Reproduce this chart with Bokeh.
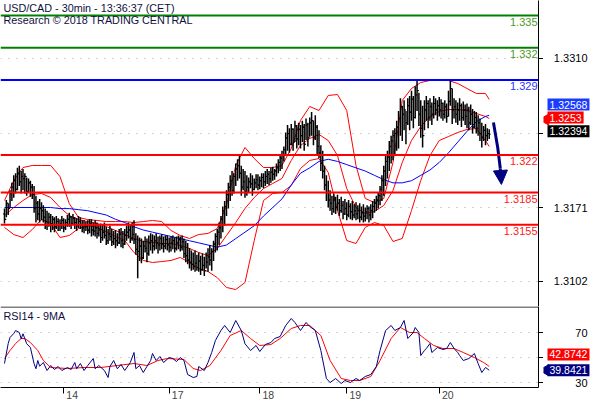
from math import pi
from bokeh.plotting import figure
from bokeh.layouts import column, row
from bokeh.models import (Span, Label, FixedTicker, Range1d, Arrow, NormalHead,
                          CustomJSTickFormatter)
from bokeh.embed import file_html
from bokeh.resources import INLINE

# ---------------- data (prices in pips above 1.3000) ----------------
BASE = 1.3
high_pips = [170,178,175,187,194,201,203,208,210,205,
             207,203,199,198,196,193,191,182,177,179,
             176,173,170,168,166,165,163,162,163,161,
             160,163,161,160,164,166,163,165,162,161,
             163,162,159,159,158,159,160,160,157,159,
             157,155,156,154,157,153,151,154,151,149,
             150,147,151,152,149,151,154,157,154,157,
             159,147,145,143,142,140,144,142,145,147,
             146,145,147,144,145,146,144,145,145,143,
             144,145,143,144,145,144,145,142,140,138,
             133,131,129,131,127,129,126,128,125,129,
             133,136,133,140,147,151,157,163,172,177,
             187,194,201,205,203,212,216,219,210,207,
             205,201,199,203,201,198,202,202,200,203,
             203,205,207,205,208,209,207,212,216,219,
             224,228,241,248,245,249,245,252,248,250,
             248,252,249,254,250,255,260,252,257,248,
             243,229,224,210,201,196,187,182,184,181,
             183,179,181,177,179,176,178,175,177,174,
             176,173,175,172,174,171,173,172,174,177,
             179,182,185,191,201,210,219,224,233,238,
             243,245,252,261,273,266,271,261,273,275,
             280,275,284,289,278,271,266,271,275,271,
             273,269,275,273,271,274,272,269,271,268,
             280,289,282,273,271,269,273,268,270,267,
             268,265,267,263,261,260,257,254,250,247,
             249,245,244]
low_pips = [156,162,164,171,177,180,184,187,191,184,
            187,184,182,185,181,179,166,157,159,157,
            159,157,151,150,153,148,150,148,151,149,
            149,151,148,150,153,153,151,155,151,149,
            152,151,148,147,149,146,147,144,145,144,
            142,144,138,140,142,136,137,140,135,136,
            133,135,137,134,133,136,140,142,138,140,
            137,127,105,121,119,123,129,120,126,131,
            128,131,132,128,131,132,129,132,131,129,
            130,132,129,131,132,130,131,124,120,118,
            114,112,113,111,112,111,108,112,107,114,
            111,117,112,121,129,131,136,142,148,154,
            163,170,177,182,184,191,196,198,182,187,
            180,182,185,189,182,187,189,187,188,190,
            189,191,193,192,194,196,197,200,203,205,
            207,214,221,224,222,229,224,232,226,229,
            226,232,224,234,228,237,238,229,234,220,
            217,205,198,187,177,171,168,164,166,165,
            168,163,166,160,164,159,162,160,159,161,
            159,160,157,159,157,158,160,157,159,161,
            166,168,170,173,177,182,191,198,205,212,
            215,219,224,226,238,233,243,230,248,243,
            252,245,254,261,247,236,227,243,252,245,
            252,248,254,257,252,256,254,252,254,250,
            256,266,249,254,250,248,252,246,252,248,
            245,243,248,240,245,240,238,233,227,233,
            229,233,235]
close_pips = [160,175,170,184,190,196,188,203,195,200,
              198,200,186,194,190,183,170,175,165,170,
              168,162,158,155,162,156,160,153,158,155,
              156,159,152,157,160,162,156,161,157,154,
              158,155,152,155,153,150,156,150,149,152,
              147,150,143,148,145,140,146,144,139,142,
              140,138,146,140,137,145,148,150,142,146,
              141,132,130,135,124,135,133,128,138,140,
              135,140,138,136,142,137,135,141,136,134,
              138,140,133,138,141,134,139,128,126,122,
              120,118,116,119,115,121,113,117,112,120,
              125,122,130,137,144,148,152,160,168,172,
              183,190,196,187,200,207,210,203,190,195,
              186,190,195,193,188,194,197,192,196,199,
              195,200,202,198,204,202,205,208,213,217,
              220,225,236,240,230,244,232,247,235,244,
              238,246,230,248,236,250,252,236,246,228,
              222,212,205,192,185,178,175,170,178,171,
              175,168,173,165,170,164,172,167,164,168,
              165,168,162,166,163,167,170,164,168,172,
              175,178,182,188,196,205,214,218,228,233,
              238,240,246,254,265,258,262,250,266,260,
              272,255,276,280,258,245,238,262,268,255,
              265,258,268,262,266,262,268,258,265,256,
              270,282,262,265,258,262,266,255,262,256,
              262,250,258,246,255,245,250,240,236,243,
              238,240,239.4]
first_open_pips = 165

# indicator curves sampled at bar indices
curve_idx = [0,5,10,15,20,25,30,35,40,45,50,55,60,65,70,75,80,85,90,95,100,105,110,115,120,125,
             130,135,140,145,150,155,160,165,170,175,180,185,190,195,200,205,210,215,220,225,230,235,
             240,245,250,255,260,262]
ma_pips = [171,171,171,171,171,171,170,170,169,168,166,164,160,157,153,150,148,146,144,142,140,138,136,134,
           136,142,148,154,163,171,179,192,203,208,214,216,214,211,208,205,201,197,194,194,196,201,206,213,
           222,232,242,251,256,257]
bb_upper_pips = [177.5,196.2,208.3,210.2,210.2,210.2,199.9,174.7,161.7,159.8,158.9,157.9,157.9,157.9,157.0,157.9,
                 158.9,157.9,149.6,144.9,142.1,145.8,146.8,151.4,172.9,210.2,227.0,216.7,208.3,208.3,210.2,226.0,
                 252.2,265.2,261.5,275.5,276.4,261.5,210.2,179.4,175.7,179.4,213.0,270.8,282.0,287.6,289.5,289.5,
                 289.5,286.7,282.0,277.4,277.4,271.8]
bb_mid_pips = [163.5,171.0,177.5,183.1,184.1,180.3,171.0,163.5,159.8,157.9,156.1,153.3,149.6,145.8,142.1,139.3,
               138.4,137.4,137.4,135.6,132.8,129.0,126.2,132.8,144.9,157.0,170.1,180.3,188.7,193.4,198.1,214.9,
               228.8,235.4,239.1,233.5,219.5,188.7,171.0,165.4,167.3,172.9,186.9,213.0,233.5,246.6,255.9,260.6,
               262.4,262.4,261.5,258.7,255.9,254.0]
bb_lower_pips = [152.4,145.8,143.0,150.5,159.8,156.1,143.0,144.9,151.4,154.2,152.4,148.6,144.0,140.2,129.0,121.6,
                 119.7,120.6,121.6,124.4,119.7,114.1,111.3,105.6,96.4,94.5,101.0,140.2,177.5,184.1,185.0,191.5,
                 207.4,214.9,216.7,203.7,168.2,140.2,137.4,152.4,157.0,154.2,139.3,142.1,168.2,196.2,219.5,233.5,
                 237.2,241.0,243.8,244.7,233.5,227.9]

rsi_idx = [0,2,3,5,6,8,9,10,11,12,14,16,17,18,19,21,23,25,27,29,31,34,36,38,39,41,43,45,48,49,51,54,56,57,59,
           61,63,65,68,70,71,73,75,77,79,80,82,84,86,89,91,93,95,97,99,102,104,105,108,110,112,114,117,119,122,
           125,128,130,133,136,138,141,144,146,149,152,155,157,160,163,165,168,171,174,176,179,182,184,187,190,
           192,195,198,201,203,206,209,211,214,216,218,221,222,224,225,227,228,230,231,234,237,239,241,243,245,
           246,248,251,254,256,258,260,262]
rsi_val = [45.2,61.2,66,69.2,71.6,70,65,69,65,61,58,45,41,47.6,43,46,39.6,43.6,40.4,42.8,39.6,42,40.4,46,41,
           45.2,39.6,43.6,49.2,41,43.6,39.6,34,42.8,47.6,41,44.4,39.6,46,54,41,43.6,38,42.8,47.6,53.2,47.6,50.8,
           46,50,49.2,46.8,50,47.6,36.4,34,34.8,42.8,39.6,46,54,63.6,71.6,75.6,70,79.6,71.6,61,55.6,59.6,54.8,
           60.4,62,65.2,66.8,75.6,81.2,78,71.6,78,74.8,71.6,55.6,33.2,30,33.2,29.2,31.6,30,33.2,31.6,34.8,36.4,
           42.8,55.6,71.6,75.6,71.6,74,79.6,65.2,70,74,70,51.6,55.6,57.2,61.2,54,58,56.4,57.2,62,57.2,54,51.6,
           47.6,49.2,53.2,45.2,38,42,39.8421]
rsi_ma_idx = [0,3,6,9,11,14,18,21,25,34,43,52,61,70,77,83,88,97,102,106,111,117,122,128,133,138,144,149,155,
              160,165,171,176,182,187,192,198,203,209,214,219,223,227,232,237,243,248,254,259,262]
rsi_ma_val = [49.2,55.6,61.2,65.2,65.2,62,55.6,47.6,42,41.2,42,42,43.6,45.2,43.6,47.6,49.2,48.4,41.2,39.6,43.6,
              55.6,67.6,71.6,65.2,59.6,60.4,65.2,73.2,75.6,75.6,67.6,47.6,33.2,31.6,31.6,34.8,47.6,65.2,74,70,70,
              65.2,59.6,57.2,57.2,54,50,46,42.8742]

levels = [1.335, 1.332, 1.329, 1.322, 1.3185, 1.3155]
level_text = ["1.335", "1.332", "1.329", "1.322", "1.3185", "1.3155"]
level_colors = ["#008000", "#008000", "#0000ff", "#ff0000", "#ff0000", "#ff0000"]
level_text_colors = ["#4d9a2a", "#4d9a2a", "#3030ff", "#ff2020", "#ff2020", "#ff2020"]

forecast_idx = [264.3, 266.6, 268.0, 268.6]
forecast_pips = [250.3, 227.0, 207.4, 192.5]

price_ticks = [1.3102, 1.3171, 1.3240, 1.3310]
price_tick_labels = ["1.3102", "1.3171", "", "1.3310"]
rsi_ticks = [30, 50, 70]
rsi_tick_labels = ["30", "", "70"]
day_ticks = [32, 89, 138, 185, 235]
day_labels = ["14", "17", "18", "19", "20"]

ma_last = 1.32568
bid_last = 1.3253
close_last = 1.32394
rsi_ma_last = 42.8742
rsi_last = 39.8421

# ---------------- helpers ----------------
def px(v):
    return [BASE + p / 10000.0 for p in v]

FONT = "Liberation Sans"
n = len(high_pips)
idx = list(range(n))
opens = [first_open_pips] + close_pips[:-1]

FW, SW = 538, 47          # frame width of the chart, width of the right-hand scale strip
TOP_H, RSI_H, DATE_H = 306, 81, 13
BAR_PX = 1.85             # pixels per bar in the reference

xr = Range1d(-2.16, 288.65)
yr_price = Range1d(1.307866, 1.336410)
yr_rsi = Range1d(26, 90.8)
rsi_per_px = (yr_rsi.end - yr_rsi.start) / RSI_H
yr_rsi_strip = Range1d(yr_rsi.start - DATE_H * rsi_per_px, yr_rsi.end)
no_labels = CustomJSTickFormatter(code="return ''")

def tick_axis(ax, ticks):
    ax.ticker = FixedTicker(ticks=ticks)
    ax.formatter = no_labels
    ax.axis_line_color = "black"
    ax.major_tick_line_color = "black"
    ax.major_tick_out = 5
    ax.major_tick_in = 0
    ax.minor_tick_line_color = None
    ax.major_label_standoff = 0

def dotted_grid(fig, ticks):
    fig.xgrid.visible = False
    fig.ygrid.ticker = FixedTicker(ticks=ticks)
    fig.ygrid.grid_line_color = "#a8a8a8"
    fig.ygrid.grid_line_dash = "1 7"

def strip(yrange, h):
    s = figure(frame_width=SW, frame_height=h, x_range=Range1d(0, SW), y_range=yrange,
               output_backend="svg", toolbar_location=None, x_axis_location=None,
               y_axis_location=None, min_border=0)
    s.outline_line_color = None
    s.grid.visible = False
    return s

def box(fig, yv, txt, bg, yoff):
    fig.add_layout(Label(x=4, y=yv, y_offset=yoff, text=txt,
                         text_align="left", text_baseline="middle", text_font=FONT,
                         text_font_size="10.5px", text_color="white",
                         background_fill_color=bg, padding=2))

# ---------------- price panel ----------------
p = figure(frame_width=FW, frame_height=TOP_H, x_range=xr, y_range=yr_price,
           output_backend="svg", toolbar_location=None, x_axis_location=None,
           y_axis_location="right", min_border=0)
p.outline_line_color = None
dotted_grid(p, price_ticks)
tick_axis(p.yaxis[0], price_ticks)

for lv, c in zip(levels, level_colors):
    p.add_layout(Span(location=lv, dimension="width", line_color=c, line_width=2))
for lv, t, c in zip(levels, level_text, level_text_colors):
    p.add_layout(Label(x=xr.end, y=lv, text=t, text_align="right", text_baseline="top",
                       x_offset=-1, y_offset=-2, text_font=FONT, text_font_size="11px",
                       text_color=c))

p.line(curve_idx, px(bb_upper_pips), line_color="#ff0000", line_width=1)
p.line(curve_idx, px(bb_mid_pips), line_color="#ff0000", line_width=1)
p.line(curve_idx, px(bb_lower_pips), line_color="#ff0000", line_width=1)
p.line(curve_idx, px(ma_pips), line_color="#0000ff", line_width=1)

hi = px(high_pips)
lo = px(low_pips)
cl = px(close_pips)
op = px(opens)
p.segment(x0=idx, y0=lo, x1=idx, y1=hi, line_color="black", line_width=1.5)
p.segment(x0=[i - 0.8 for i in idx], y0=op, x1=idx, y1=op, line_color="black", line_width=1)
p.segment(x0=idx, y0=cl, x1=[i + 0.8 for i in idx], y1=cl, line_color="black", line_width=1)

fy = px(forecast_pips)
p.line(forecast_idx[:3], fy[:3], line_color="#000080", line_width=3)
p.add_layout(Arrow(end=NormalHead(size=14, fill_color="#000080", line_color="#000080"),
                   x_start=forecast_idx[2], y_start=fy[2], x_end=forecast_idx[3], y_end=fy[3],
                   line_color="#000080", line_width=3))

p.add_layout(Label(x=xr.start, y=yr_price.end, x_offset=3, y_offset=-1, text_baseline="top",
                   text="USD/CAD - 30min - 13:36:37 (CET)", text_font=FONT,
                   text_font_size="10.8px", text_color="#101040"))
p.add_layout(Label(x=xr.start, y=yr_price.end, x_offset=3, y_offset=-13, text_baseline="top",
                   text="Research \u00a9 2018 TRADING CENTRAL", text_font=FONT,
                   text_font_size="10.8px", text_color="#101040"))

# right-hand scale strip for the price panel
pr = strip(yr_price, TOP_H)
pr.text(x=[44] * len(price_ticks), y=price_ticks, text=price_tick_labels, text_align="right",
        text_baseline="middle", text_font_size="11px", text_color="black",
        text_font={"value": FONT})
box(pr, ma_last, "%.5f" % ma_last, "#1a3cff", 11)
box(pr, bid_last, "%.4f" % bid_last, "#ff0000", 2)
box(pr, close_last, "%.5f" % close_last, "#000000", 3)
pr.scatter(x=[2], y=[bid_last], marker="triangle", size=11, angle=pi / 2,
           fill_color="#ff0000", line_color="#ff0000")

# ---------------- RSI panel ----------------
q = figure(frame_width=FW, frame_height=RSI_H, x_range=xr, y_range=yr_rsi,
           output_backend="svg", toolbar_location=None, y_axis_location="right", min_border=0)
q.outline_line_color = None
dotted_grid(q, rsi_ticks)
tick_axis(q.yaxis[0], rsi_ticks)

# day labels sit just right of the day-start tick marks
label_shift = 8.5 / BAR_PX
xa = q.xaxis[0]
xa.ticker = FixedTicker(ticks=[d + label_shift for d in day_ticks], minor_ticks=day_ticks)
xa.major_label_overrides = {d + label_shift: l for d, l in zip(day_ticks, day_labels)}
xa.axis_line_color = "black"
xa.major_tick_line_color = None
xa.major_tick_out = 0
xa.major_tick_in = 0
xa.minor_tick_line_color = "black"
xa.minor_tick_out = 6
xa.minor_tick_in = 0
xa.major_label_standoff = -3
xa.major_label_text_font = FONT
xa.major_label_text_font_size = "10.5px"

q.add_layout(Span(location=90.4, dimension="width", line_color="black", line_width=1))
q.line(rsi_ma_idx, rsi_ma_val, line_color="#ff0000", line_width=1)
q.line(rsi_idx, rsi_val, line_color="#000080", line_width=1)
q.add_layout(Label(x=xr.start, y=yr_rsi.end, x_offset=3, y_offset=-3, text_baseline="top",
                   text="RSI14 - 9MA", text_font=FONT, text_font_size="10.8px",
                   text_color="#101040"))

qr = strip(yr_rsi_strip, RSI_H + DATE_H)
qr.text(x=[44] * len(rsi_ticks), y=rsi_ticks, text=rsi_tick_labels, text_align="right",
        text_baseline="middle", text_font_size="11px", text_color="black",
        text_font={"value": FONT})
box(qr, rsi_ma_last, "%.4f" % rsi_ma_last, "#ff0000", 12)
box(qr, rsi_last, "%.4f" % rsi_last, "#000080", 0)
qr.scatter(x=[2], y=[rsi_last], marker="triangle", size=11, angle=pi / 2,
           fill_color="#000080", line_color="#000080")

layout = column(row(p, pr, spacing=0), row(q, qr, spacing=0), spacing=0)
open("out.html", "w").write(file_html(layout, INLINE))
